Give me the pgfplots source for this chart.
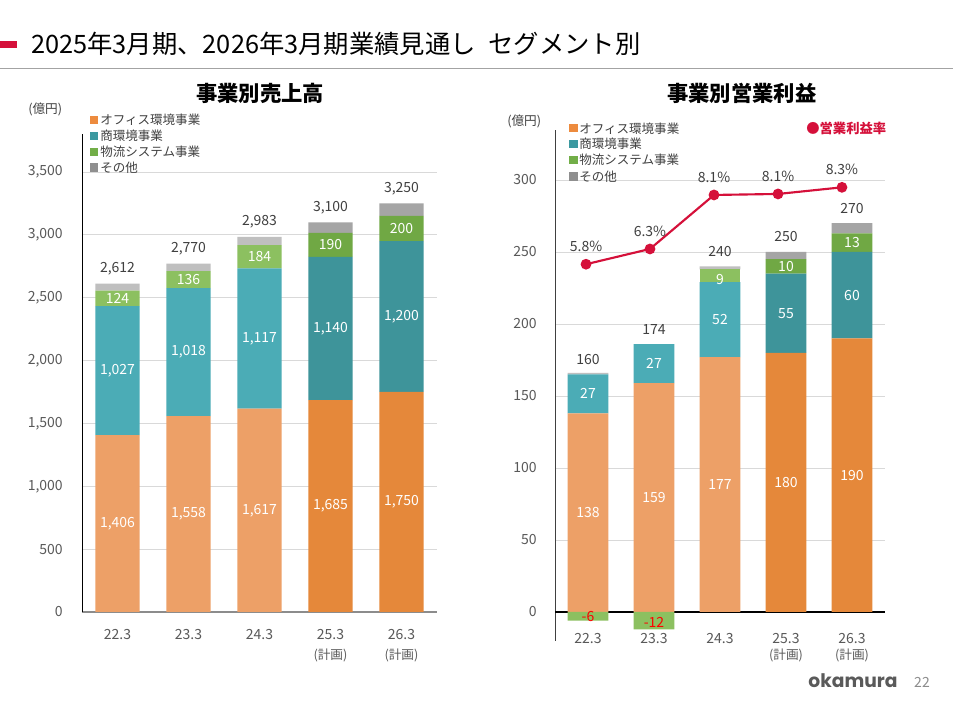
\documentclass[border=0pt]{standalone}
\usepackage{pgfplots}
\pgfplotsset{compat=1.18}
\usepackage{fontspec}
\setmainfont{Noto Sans CJK JP}
\newfontfamily\logofont{Poppins}
\definecolor{oL}{HTML}{EDA067}
\definecolor{oD}{HTML}{E5883A}
\definecolor{tL}{HTML}{4BACB6}
\definecolor{tD}{HTML}{3E949A}
\definecolor{gL}{HTML}{8CC060}
\definecolor{gD}{HTML}{70A844}
\definecolor{yL}{HTML}{BFBFBF}
\definecolor{yD}{HTML}{A5A5A5}
\definecolor{lgO}{HTML}{ED8B3E}
\definecolor{lgT}{HTML}{3C99A0}
\definecolor{lgG}{HTML}{72AE48}
\definecolor{lgY}{HTML}{8F8F8F}
\definecolor{accent}{HTML}{D5103A}
\definecolor{tickc}{HTML}{595959}
\definecolor{lbl}{HTML}{404040}
\definecolor{gridc}{HTML}{D9D9D9}
\definecolor{axgray}{HTML}{8C8C8C}
\definecolor{logoc}{HTML}{5A5A5A}

\pgfplotsset{
  base/.style={scale only axis, anchor=south west, xmin=-0.5, xmax=4.5,
    enlargelimits=false, major tick length=0pt, tick style={draw=none},
    /pgf/number format/1000 sep={,}, /pgf/number format/assume math mode=true},
  barlbl/.style={draw=none, mark=none, nodes near coords, point meta=explicit symbolic,
    every node near coord/.append style={anchor=center, inner sep=0pt, text=white,
      font=\fontsize{10.5}{12}\selectfont}},
  totlbl/.style={draw=none, mark=none, nodes near coords, point meta=explicit symbolic,
    every node near coord/.append style={anchor=center, inner sep=0pt, text=lbl, yshift=11.25pt,
      font=\fontsize{10.5}{12}\selectfont}},
}

\begin{document}
\begin{tikzpicture}
\path[fill=white, use as bounding box] (0,0) rectangle (714.75pt,534pt);

% ---------------- left chart: sales ----------------
\begin{axis}[base, at={(61.5pt,75pt)}, width=266.25pt, height=358.3pt,
  ymin=0, ymax=3800, ybar stacked, bar width=0.62,
  axis lines*=left, x axis line style={draw=axgray,-, line width=0.8pt}, y axis line style={draw=black,-, line width=0.6pt},
  ytick={0,500,...,3500}, ymajorgrids, grid style={gridc, line width=0.6pt},
  yticklabel style={anchor=east, inner sep=0pt, xshift=-14.25pt, text=tickc, font=\fontsize{10.5}{12}\selectfont},
  xtick={0,...,4},
  xticklabels={22.3,23.3,24.3,{25.3\\{\fontsize{9.5}{15}\selectfont(計画)}},{26.3\\{\fontsize{9.5}{15}\selectfont(計画)}}},
  xticklabel style={align=center, anchor=north, inner sep=0pt, yshift=-13pt, text=tickc, font=\fontsize{10.5}{15}\selectfont},
]
\addplot[fill=oL, draw=none] coordinates {(0,1406) (1,1558) (2,1617) (3,0) (4,0)};
\addplot[fill=oD, draw=none] coordinates {(0,0) (1,0) (2,0) (3,1685) (4,1750)};
\addplot[fill=tL, draw=none] coordinates {(0,1027) (1,1018) (2,1117) (3,0) (4,0)};
\addplot[fill=tD, draw=none] coordinates {(0,0) (1,0) (2,0) (3,1140) (4,1200)};
\addplot[fill=gL, draw=none] coordinates {(0,124) (1,136) (2,184) (3,0) (4,0)};
\addplot[fill=gD, draw=none] coordinates {(0,0) (1,0) (2,0) (3,190) (4,200)};
\addplot[fill=yL, draw=none] coordinates {(0,55) (1,58) (2,65) (3,0) (4,0)};
\addplot[fill=yD, draw=none] coordinates {(0,0) (1,0) (2,0) (3,85) (4,100)};
\end{axis}
\begin{axis}[base, at={(61.5pt,75pt)}, width=266.25pt, height=358.3pt,
  ymin=0, ymax=3800, axis lines=none]
\addplot[barlbl] table[x=x, y=y, meta=l] {
x y l
0 703 1,406
1 779 1,558
2 808.5 1,617
3 842.5 1,685
4 875 1,750
0 1919.5 1,027
1 2067 1,018
2 2175.5 1,117
3 2255 1,140
4 2350 1,200
0 2495 124
1 2644 136
2 2826 184
3 2920 190
4 3050 200
};
\addplot[totlbl] table[x=x, y=y, meta=l] {
x y l
0 2612 2,612
1 2770 2,770
2 2983 2,983
3 3100 3,100
4 3250 3,250
};
\end{axis}

% ---------------- right chart: operating profit ----------------
\begin{axis}[base, at={(416.25pt,53.4pt)}, width=247.5pt, height=383.4pt,
  ymin=-20, ymax=335, ybar stacked, bar width=0.62,
  axis lines*=left, x axis line style={draw=none}, y axis line style={draw=lbl,-, line width=0.6pt},
  ytick={50,100,...,300}, ymajorgrids, grid style={gridc, line width=0.6pt},
  extra y ticks={0}, extra y tick style={grid=major, major grid style={black, line width=0.8pt}},
  yticklabel style={anchor=east, inner sep=0pt, xshift=-13.5pt, text=tickc, font=\fontsize{10.5}{12}\selectfont},
  xtick={0,...,4},
  xticklabels={22.3,23.3,24.3,{25.3\\{\fontsize{9.5}{11.8}\selectfont(計画)}},{26.3\\{\fontsize{9.5}{11.8}\selectfont(計画)}}},
  xticklabel style={align=center, anchor=north, inner sep=0pt, yshift=5.5pt, text=tickc, font=\fontsize{10.5}{11.8}\selectfont},
]
\addplot[fill=oL, draw=none] coordinates {(0,138) (1,159) (2,177) (3,0) (4,0)};
\addplot[fill=oD, draw=none] coordinates {(0,0) (1,0) (2,0) (3,180) (4,190)};
\addplot[fill=tL, draw=none] coordinates {(0,27) (1,27) (2,52) (3,0) (4,0)};
\addplot[fill=tD, draw=none] coordinates {(0,0) (1,0) (2,0) (3,55) (4,60)};
\addplot[fill=gL, draw=none] coordinates {(0,0) (1,0) (2,9) (3,0) (4,0)};
\addplot[fill=gD, draw=none] coordinates {(0,0) (1,0) (2,0) (3,10) (4,13)};
\addplot[fill=yL, draw=none] coordinates {(0,1) (1,0) (2,2) (3,0) (4,0)};
\addplot[fill=yD, draw=none] coordinates {(0,0) (1,0) (2,0) (3,5) (4,7)};
\end{axis}
\begin{axis}[base, at={(416.25pt,53.4pt)}, width=247.5pt, height=383.4pt,
  ymin=-20, ymax=335, axis lines=none]
\addplot[ybar, bar width=0.62, fill=gL, draw=none] coordinates {(0,-6) (1,-12)};
\addplot[barlbl] table[x=x, y=y, meta=l] {
x y l
0 69 138
1 79.5 159
2 88.5 177
3 90 180
4 95 190
0 151.5 27
1 172.5 27
2 203 52
3 207.5 55
4 220 60
2 231 9
3 240 10
4 256.5 13
};
\addplot[barlbl, every node near coord/.append style={text=red}] table[x=x, y=y, meta=l] {
x y l
0 -3.3 -6
1 -7 -12
};
\addplot[totlbl] table[x=x, y=y, meta=l] {
x y l
0 165 160
1 186 174
2 240 240
3 250 250
4 270 270
};
\addplot[accent, line width=1.6pt, mark=*, mark size=3.2pt, mark options={fill=accent, draw=accent},
  nodes near coords={\pgfplotspointmeta\%}, point meta=explicit symbolic,
  every node near coord/.append style={anchor=center, inner sep=0pt, text=lbl, yshift=13.5pt,
      font=\fontsize{10.5}{12}\selectfont}]
  table[x=x, y=y, meta=l] {
x y l
-0.03 241.5 5.8
0.939 252.1 6.3
1.909 289.6 8.1
2.879 290.3 8.1
3.848 294.9 8.3
};
\end{axis}

% ---------------- decorations (pixel coordinates) ----------------
\begin{scope}[x=0.75pt, y=-0.75pt, shift={(0pt,534pt)}]
\fill[accent] (0,40.7) rectangle (17,48.3);
\draw[color=axgray!80, line width=1.1pt] (0,68.3) -- (953,68.3);
\node[anchor=west, inner sep=0pt, font=\fontsize{19}{19}\selectfont] at (31,44)
  {2025年3月期、2026年3月期業績見通し\hspace{0.5em}セグメント別};
\node[font=\bfseries\fontsize{16}{16}\selectfont] at (260,93) {事業別売上高};
\node[font=\bfseries\fontsize{16}{16}\selectfont] at (741.7,93) {事業別営業利益};
\node[anchor=west, inner sep=0pt, text=lbl, font=\fontsize{9.5}{10}\selectfont] at (28,109) {(億円)};
\node[anchor=west, inner sep=0pt, text=lbl, font=\fontsize{9.5}{10}\selectfont] at (507,121) {(億円)};
% left legend
\begin{scope}[every node/.style={anchor=west, inner sep=0pt, text=lbl, font=\fontsize{9.4}{10}\selectfont}]
\fill[lgO] (89.5,115.7) rectangle (98,124.2); \node at (100,120) {オフィス環境事業};
\fill[lgT] (89.5,131.7) rectangle (98,140.2); \node at (100,136) {商環境事業};
\fill[lgG] (89.5,147.7) rectangle (98,156.2); \node at (100,152) {物流システム事業};
\fill[lgY] (89.5,163.5) rectangle (98,172);   \node at (100,167.8) {その他};
% right legend
\fill[lgO] (569,124) rectangle (577.5,132.5); \node at (579,128.3) {オフィス環境事業};
\fill[lgT] (569,139.7) rectangle (577.5,148.2); \node at (579,144) {商環境事業};
\fill[lgG] (569,155.7) rectangle (577.5,164.2); \node at (579,160) {物流システム事業};
\fill[lgY] (569,172.4) rectangle (577.5,180.9); \node at (579,176.7) {その他};
\end{scope}
\node[anchor=west, inner sep=0pt, text=accent, font=\bfseries\fontsize{10}{10}\selectfont] at (806,128) {●営業利益率};
\node[font=\logofont\bfseries\fontsize{14}{14}\selectfont, text=logoc] at (853,681) {okamura};
\node[font=\fontsize{10.5}{12}\selectfont, text=axgray] at (922,682) {22};
\end{scope}
\end{tikzpicture}
\end{document}
